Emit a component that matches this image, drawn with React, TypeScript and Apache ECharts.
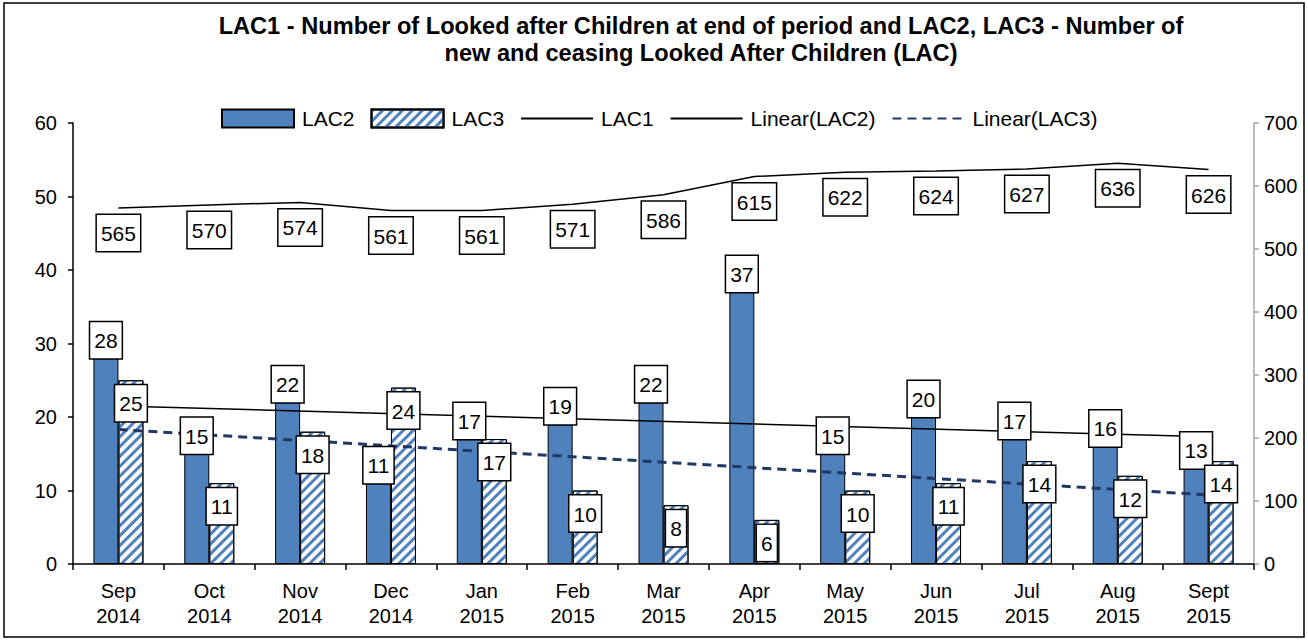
import React, { useEffect, useRef } from "react";
import * as echarts from "echarts";

const categories = [
  "Sep\n2014", "Oct\n2014", "Nov\n2014", "Dec\n2014", "Jan\n2015", "Feb\n2015", "Mar\n2015",
  "Apr\n2015", "May\n2015", "Jun\n2015", "Jul\n2015", "Aug\n2015", "Sept\n2015",
];
const lac2 = [28, 15, 22, 11, 17, 19, 22, 37, 15, 20, 17, 16, 13];
const lac3 = [25, 11, 18, 24, 17, 10, 8, 6, 10, 11, 14, 12, 14];
const lac1 = [565, 570, 574, 561, 561, 571, 586, 615, 622, 624, 627, 636, 626];
// trend line end points: [category index, value]
const trendLac2 = [[0, 21.5], [12, 17.3]];
const trendLac3 = [[0, 18.3], [12, 9.4]];
const titleText =
  "LAC1 - Number of Looked after Children at end of period and LAC2, LAC3 - Number of\nnew and ceasing Looked After Children (LAC)";

const FONT = "'Liberation Sans', Arial, sans-serif";
const BLUE = "#4f81bd";
const CLEAR = "rgba(0,0,0,0)";

const boxLabel = {
  show: true,
  fontSize: 21,
  fontFamily: FONT,
  color: "#000",
  backgroundColor: "#fff",
  borderColor: "#000",
  borderWidth: 1.5,
  padding: [8, 4, 7, 4],
};

export default function App() {
  const ref = useRef<HTMLDivElement>(null);
  useEffect(() => {
    if (!ref.current) return;
    const chart = echarts.init(ref.current, null, { renderer: "svg" });
    const decal = {
      symbol: "rect",
      symbolSize: 1,
      dashArrayX: [[1, 0]],
      dashArrayY: [3, 4],
      rotation: -Math.PI / 4,
      color: BLUE,
    };
    chart.setOption({
      animation: false,
      textStyle: { fontFamily: FONT },
      graphic: [
        {
          type: "rect",
          shape: { x: 4, y: 3, width: 1300, height: 634 },
          style: { fill: "none", stroke: "#000", lineWidth: 1.5 },
          silent: true,
        },
        {
          type: "text",
          x: 701,
          y: 12,
          style: {
            text: titleText,
            font: `bold 23.6px ${FONT}`,
            textAlign: "center",
            lineHeight: 27,
            fill: "#000",
          },
        },
      ],
      legend: {
        left: 221,
        top: 108,
        itemWidth: 72,
        itemHeight: 18,
        itemGap: 16,
        padding: 0,
        textStyle: { fontSize: 21, fontFamily: FONT, color: "#000", padding: [0, 0, 0, 3] },
        data: [
          { name: "LAC2", icon: "rect" },
          { name: "LAC3", icon: "rect" },
          "LAC1",
          "Linear(LAC2)",
          "Linear(LAC3)",
        ],
      },
      grid: { left: 73, right: 54, top: 123, bottom: 76 },
      xAxis: [
        {
          type: "category",
          data: categories,
          axisLine: { lineStyle: { color: "#000", width: 1.5 } },
          axisTick: { show: true, length: 6, lineStyle: { color: "#000", width: 1.5 } },
          axisLabel: { fontSize: 20, lineHeight: 25, margin: 14, color: "#000", fontFamily: FONT, interval: 0 },
        },
        {
          type: "category",
          data: categories,
          show: false,
        },
      ],
      yAxis: [
        {
          type: "value",
          min: 0,
          max: 60,
          interval: 10,
          splitLine: { show: false },
          axisLine: { show: true, lineStyle: { color: "#000", width: 1.5 } },
          axisTick: { show: true, length: 5, lineStyle: { color: "#000", width: 1.5 } },
          axisLabel: { fontSize: 20, margin: 16, color: "#000", fontFamily: FONT },
        },
        {
          type: "value",
          min: 0,
          max: 700,
          interval: 100,
          position: "right",
          splitLine: { show: false },
          axisLine: { show: true, lineStyle: { color: "#a6a6a6", width: 1.5 } },
          axisTick: { show: true, length: 5, lineStyle: { color: "#a6a6a6", width: 1.5 } },
          axisLabel: { fontSize: 20, margin: 10, color: "#000", fontFamily: FONT },
        },
      ],
      series: [
        {
          name: "LAC2",
          type: "bar",
          data: lac2,
          barWidth: 25,
          barGap: "0%",
          z: 2,
          itemStyle: { color: BLUE, borderColor: "#000", borderWidth: 1 },
        },
        {
          name: "LAC3",
          type: "bar",
          data: lac3,
          barWidth: 25,
          barGap: "0%",
          z: 2,
          itemStyle: { color: "#fff", borderColor: "#000", borderWidth: 1, decal },
        },
        {
          name: "LAC1",
          type: "line",
          yAxisIndex: 1,
          data: lac1,
          symbol: "circle",
          symbolSize: 2,
          showSymbol: true,
          z: 4,
          lineStyle: { color: "#000", width: 1.5 },
          itemStyle: { color: CLEAR, borderWidth: 0 },
          label: { ...boxLabel, position: "bottom", distance: 6 },
        },
        {
          name: "Linear(LAC2)",
          type: "line",
          data: trendLac2,
          symbol: "circle",
          symbolSize: 1,
          showSymbol: true,
          z: 3,
          lineStyle: { color: "#000", width: 1.5 },
          itemStyle: { color: CLEAR, borderWidth: 0 },
        },
        {
          name: "Linear(LAC3)",
          type: "line",
          data: trendLac3,
          symbol: "circle",
          symbolSize: 1,
          showSymbol: true,
          z: 3,
          lineStyle: { color: "#1f3864", width: 3, type: [9, 6] },
          itemStyle: { color: CLEAR, borderWidth: 0 },
        },
        {
          name: "LAC2 labels",
          type: "bar",
          xAxisIndex: 1,
          data: lac2,
          barWidth: 25,
          barGap: "0%",
          z: 10,
          silent: true,
          itemStyle: { color: CLEAR, borderWidth: 0 },
          label: { ...boxLabel, position: "top", distance: 0 },
        },
        {
          name: "LAC3 labels",
          type: "bar",
          xAxisIndex: 1,
          data: lac3,
          barWidth: 25,
          barGap: "0%",
          z: 10,
          silent: true,
          itemStyle: { color: CLEAR, borderWidth: 0 },
          label: { ...boxLabel, position: "insideTop", distance: 5 },
        },
      ],
    });
    return () => chart.dispose();
  }, []);
  return (
    <div
      ref={ref}
      style={{ position: "absolute", left: 0, top: 0, width: 1308, height: 640, background: "#fff" }}
    />
  );
}
